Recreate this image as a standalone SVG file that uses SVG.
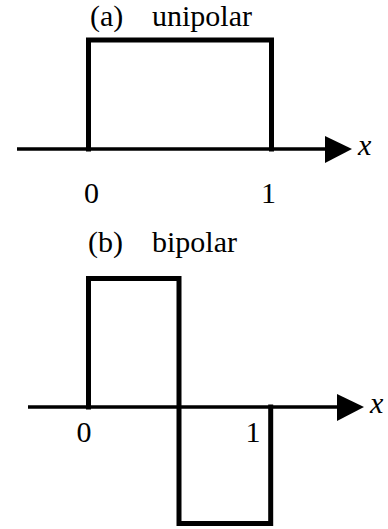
<svg xmlns="http://www.w3.org/2000/svg" width="388" height="529" viewBox="0 0 388 529">
<style>
text{font-family:'Liberation Serif','Times New Roman',serif;font-size:30px;fill:#000}
.i{font-style:italic}
.ax{stroke:#000;stroke-width:3.5;fill:none}
.p{stroke:#000;stroke-width:5;fill:none;stroke-linejoin:miter;stroke-linecap:square}
</style>
<rect width="388" height="529" fill="#fff"/>
<g id="connectors">
<line class="ax" x1="17" y1="149" x2="327" y2="149"/>
<polygon points="325,136 352,149 325,163" fill="#000"/>
<line class="ax" x1="28" y1="407" x2="339" y2="407"/>
<polygon points="337,394 364,407 337,421" fill="#000"/>
</g>
<g id="unipolar-pulse">
<polyline class="p" points="88.5,149 88.5,40 271.5,40 271.5,149"/>
</g>
<g id="bipolar-pulse">
<polyline class="p" points="88.5,407 88.5,278.5 179,278.5 179,523.5 270.7,523.5 270.7,407"/>
</g>
<g id="labels">
<text x="90" y="26">(a)</text>
<text x="152" y="26">unipolar</text>
<text class="i" x="358" y="155">x</text>
<text x="91.5" y="203" text-anchor="middle">0</text>
<text x="268.5" y="203" text-anchor="middle">1</text>
<text x="88" y="252">(b)</text>
<text x="152" y="252">bipolar</text>
<text class="i" x="370" y="413">x</text>
<text x="84" y="442" text-anchor="middle">0</text>
<text x="253" y="442" text-anchor="middle">1</text>
</g>
</svg>
